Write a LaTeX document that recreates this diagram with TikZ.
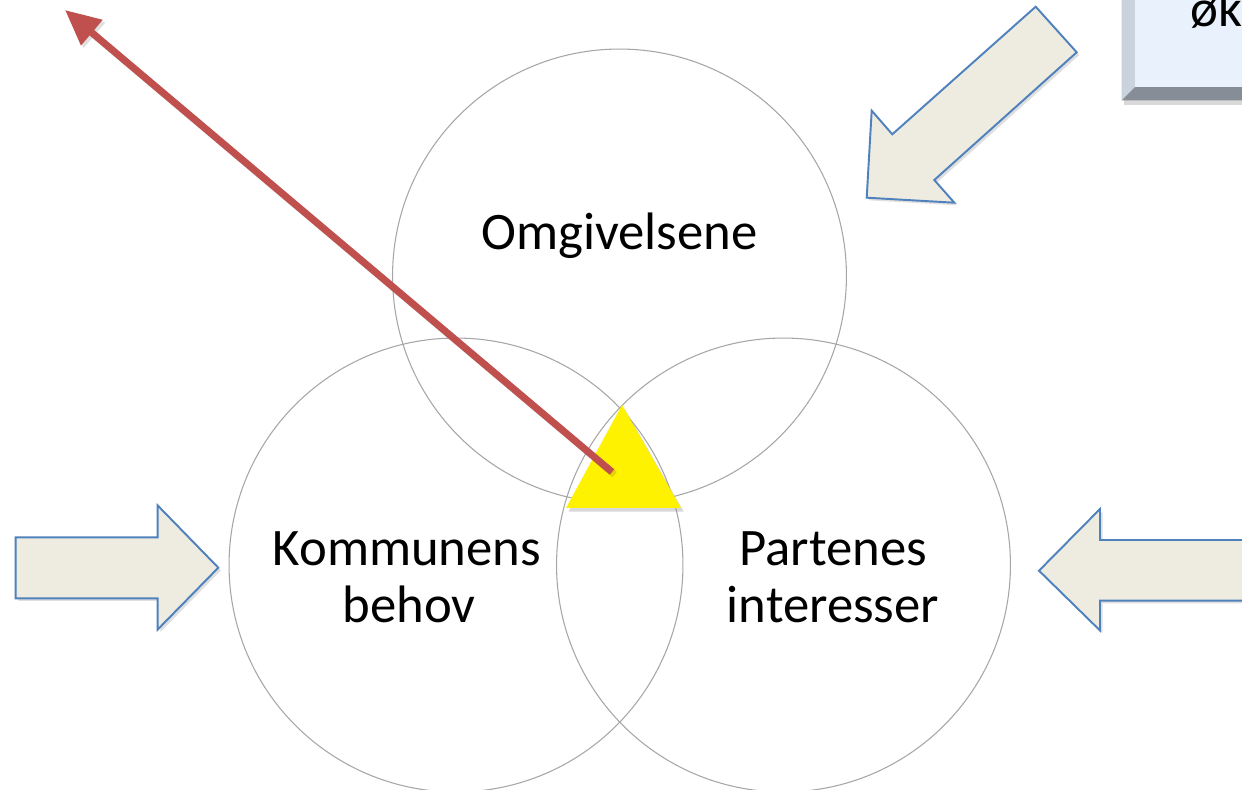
\documentclass[tikz,border=0pt]{standalone}
\usepackage{fontspec}
\setmainfont{Carlito}
\usetikzlibrary{arrows.meta,shadows}
\definecolor{ringgray}{HTML}{A6A6A6}
\definecolor{arrowfill}{HTML}{EEECE1}
\definecolor{arrowline}{HTML}{4F81BD}
\definecolor{redline}{HTML}{C0504D}
\definecolor{boxfill}{HTML}{E8F1FC}
\definecolor{bevelleft}{HTML}{C9D2DD}
\definecolor{bevelbottom}{HTML}{868D97}
\tikzset{
  ring/.style={circle, draw=ringgray, line width=0.6pt, minimum size=9.08cm, inner sep=0pt},
  label/.style={font=\fontsize{30}{32}\selectfont, anchor=base, inner sep=0pt},
  blockarrow/.style={fill=arrowfill, draw=arrowline, line width=1.1pt, line join=miter,
     drop shadow={opacity=0.25, shadow xshift=1.5pt, shadow yshift=-1.5pt}},
  redarrow/.style={draw=redline, line width=4pt, -{Triangle[length=20pt,width=18pt]}},
}
\begin{document}
\begin{tikzpicture}[x=0.02cm,y=-0.02cm]
\useasboundingbox (0,0) rectangle (1242,790);
\clip (0,0) rectangle (1242,790);
\fill[white] (0,0) rectangle (1242,790);

% circles
\node[ring] (omg) at (619.5,276) {};
\node[ring] (kom) at (456,565) {};
\node[ring] (par) at (783.5,565) {};

% labels
\node[label] (tomg) at (619.5,250) {Omgivelsene};
\node[label] (tkom1) at (407,566) {Kommunens};
\node[label] (tkom2) at (409,623) {behov};
\node[label] (tpar1) at (833,566) {Partenes};
\node[label] (tpar2) at (833,623) {interesser};

% yellow triangle
\coordinate (ta) at (622,405);
\coordinate (tb) at (566,508);
\coordinate (tc) at (681,508);
\fill[yellow, drop shadow={opacity=0.3, shadow xshift=1.5pt, shadow yshift=-2pt}] (ta) -- (tb) -- (tc) -- cycle;

% red arrow
\coordinate (rs) at (612,472);
\coordinate (re) at (65,10);
\draw[redarrow, draw=black, opacity=0.12, transform canvas={xshift=1.5pt,yshift=-1.5pt}] (rs) -- (re);
\draw[redarrow] (rs) -- (re);

% block arrows
\draw[blockarrow] (15.7,537.3) -- (157.7,537.3) -- (157.7,505.5) -- (218.3,567.7)
   -- (157.7,629.5) -- (157.7,598.3) -- (15.7,598.3) -- cycle;
\draw[blockarrow] (1300,540) -- (1100,540) -- (1100,509) -- (1039,570.7)
   -- (1100,630.5) -- (1100,600.7) -- (1300,600.7) -- cycle;
\draw[blockarrow] (1035.7,6.7) -- (1076.7,52.3) -- (934.3,180) -- (954.3,202.7)
   -- (866.7,197.7) -- (871.7,110.7) -- (892.3,134.3) -- cycle;

% bevelled box (top right)
\fill[black, opacity=0.15] (1124,-30) rectangle (1270,105);
\fill[bevelleft] (1121.5,-30) -- (1135,-30) -- (1135,87) -- (1121.5,100.5) -- cycle;
\fill[bevelbottom] (1121.5,100.5) -- (1135,87) -- (1270,87) -- (1270,100.5) -- cycle;
\fill[boxfill] (1135,-30) rectangle (1270,87);
\node[label, anchor=base west] (tbox) at (1190,27) {øk};
\end{tikzpicture}
\end{document}
